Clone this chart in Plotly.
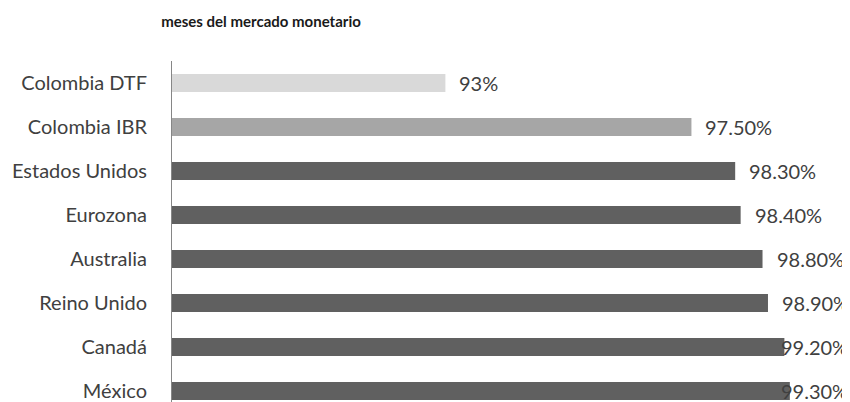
import plotly.graph_objects as go

categories = ["Colombia DTF", "Colombia IBR", "Estados Unidos", "Eurozona",
              "Australia", "Reino Unido", "Canadá", "México"]
values = [93.0, 97.5, 98.3, 98.4, 98.8, 98.9, 99.2, 99.3]
labels = ["93%", "97.50%", "98.30%", "98.40%", "98.80%", "98.90%", "99.20%", "99.30%"]
colors = ["#d9d9d9", "#a6a6a6", "#606060", "#606060", "#606060", "#606060", "#606060", "#606060"]

x_min, x_max = 88.0, 100.4
label_limit = 99.0  # labels beyond this are pushed inside the right edge

FONT = "Lato"
TXT = "#404040"
W, H = 842, 394  # page body has an 8px margin

fig = go.Figure(go.Bar(
    y=categories, x=[v - x_min for v in values], base=x_min,
    orientation="h", marker=dict(color=colors, line=dict(width=0)),
    hoverinfo="skip",
))

annotations = []
for c, v, t in zip(categories, values, labels):
    if v < label_limit:
        annotations.append(dict(x=v, y=c, xref="x", yref="y", text=t, showarrow=False,
                                xanchor="left", xshift=12,
                                font=dict(family=FONT, size=20, color=TXT)))
    else:
        annotations.append(dict(x=1, y=c, xref="paper", yref="y", text=t, showarrow=False,
                                xanchor="right", xshift=0,
                                font=dict(family=FONT, size=20, color=TXT)))

fig.update_layout(
    width=W, height=H,
    margin=dict(l=164, r=0, t=53, b=0),
    paper_bgcolor="white", plot_bgcolor="white",
    bargap=0.59,
    showlegend=False,
    title=dict(text="<b>meses del mercado monetario</b>", x=253/W, xanchor="center",
               xref="container", y=1 - 14/H, yanchor="middle", yref="container",
               font=dict(family=FONT, size=15, color="#1a1a1a")),
    xaxis=dict(range=[x_min, x_max], visible=False, fixedrange=True),
    yaxis=dict(range=[7.25, -0.5], showgrid=False, zeroline=False,
               showline=True, linecolor="#868686", linewidth=1,
               ticks="", ticklabelstandoff=20,
               tickfont=dict(family=FONT, size=20, color=TXT)),
    annotations=annotations,
)

fig.write_html("out.html")
